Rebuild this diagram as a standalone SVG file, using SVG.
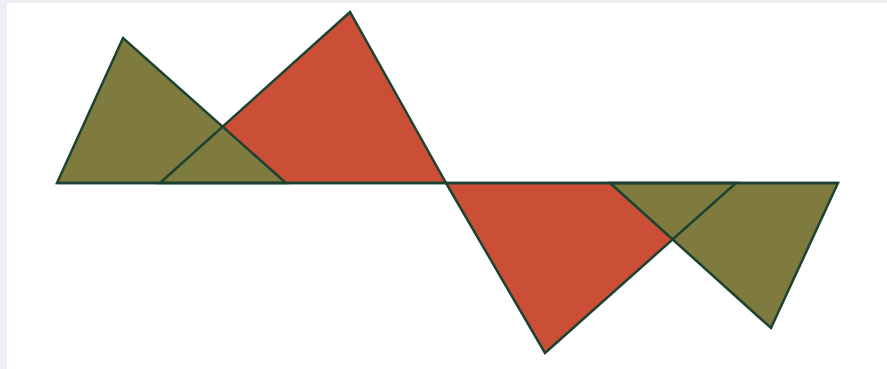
<svg xmlns="http://www.w3.org/2000/svg" width="887" height="369" viewBox="0 0 887 369">
<style>
.red{fill:#cb4f36;}
.olive{fill:#7f7a3d;}
.edge{fill:none;stroke:#1c4331;stroke-width:2.5;stroke-linejoin:miter;stroke-linecap:butt;}
</style>
<rect x="0" y="0" width="887" height="369" fill="#eceff3"/>
<rect x="7" y="3" width="880" height="366" fill="#ffffff"/>
<g id="fills">
<polygon class="red" points="160,183 350,12 446,183"/>
<polygon class="red" points="446,183 545,353 736,183"/>
<polygon class="olive" points="57,183 123,38 286,183"/>
<polygon class="olive" points="610,183 771,328 838,183"/>
</g>
<g id="edges">
<polygon class="edge" points="160,183 350,12 446,183"/>
<polygon class="edge" points="446,183 545,353 736,183"/>
<polygon class="edge" points="57,183 123,38 286,183"/>
<polygon class="edge" points="610,183 771,328 838,183"/>
<line class="edge" x1="57" y1="183" x2="838" y2="183"/>
</g>
</svg>
